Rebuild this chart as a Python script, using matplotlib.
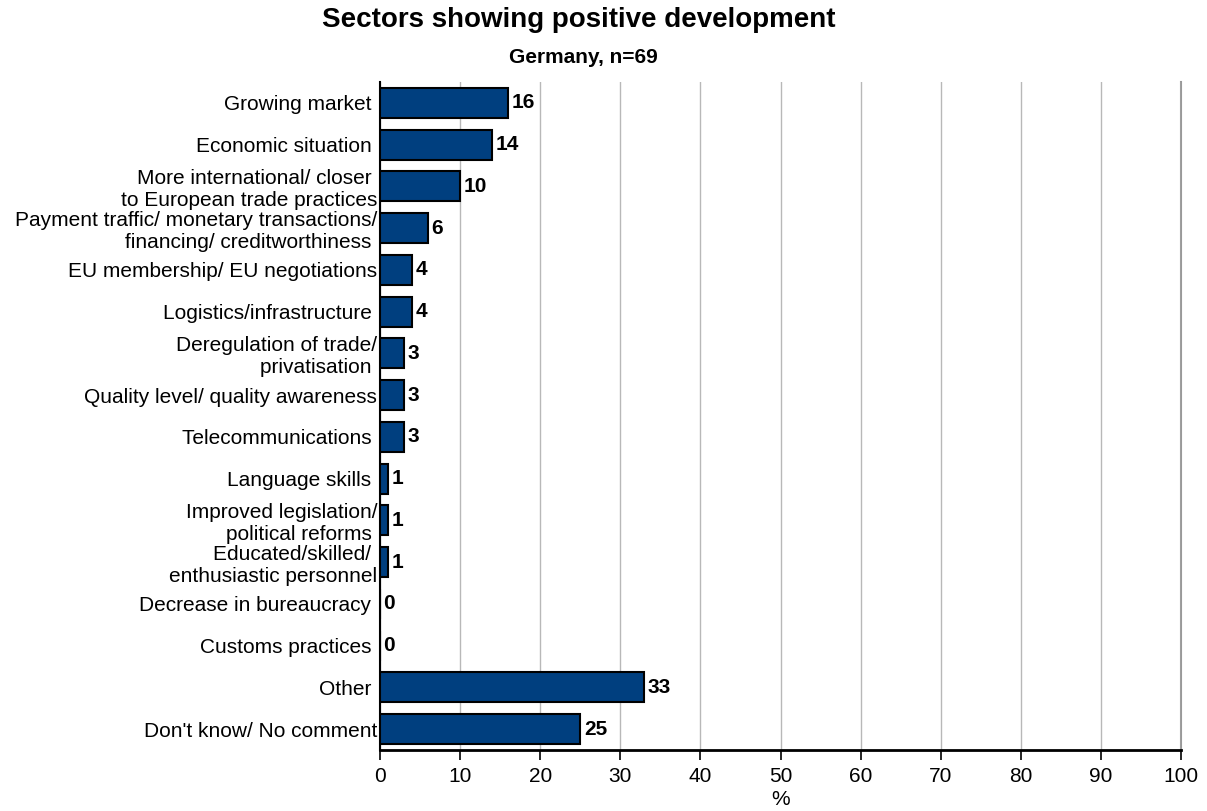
import matplotlib
matplotlib.use("Agg")
from matplotlib import pyplot as plt

plt.rcParams['font.family'] = ['Liberation Sans', 'DejaVu Sans']

categories = [
    "Growing market ",
    "Economic situation ",
    "More international/ closer \nto European trade practices",
    "Payment traffic/ monetary transactions/\nfinancing/ creditworthiness ",
    "EU membership/ EU negotiations",
    "Logistics/infrastructure ",
    "Deregulation of trade/\nprivatisation ",
    "Quality level/ quality awareness",
    "Telecommunications ",
    "Language skills ",
    "Improved legislation/\npolitical reforms ",
    "Educated/skilled/ \nenthusiastic personnel",
    "Decrease in bureaucracy ",
    "Customs practices ",
    "Other ",
    "Don't know/ No comment",
]
values = [16, 14, 10, 6, 4, 4, 3, 3, 3, 1, 1, 1, 0, 0, 33, 25]
x_ticks = list(range(0, 101, 10))

FS = 15

fig = plt.figure(figsize=(12.07, 8.11), dpi=100)
ax = fig.add_axes([0.3148, 0.0752, 0.9785 - 0.3148, 0.8989 - 0.0752])

pos = list(range(len(categories)))
ax.barh(pos, values, height=0.72, color="#003f7f", edgecolor="black",
        linewidth=1.5, zorder=3)

for y, v in zip(pos, values):
    ax.text(v + 0.45, y, str(v), va="center", ha="left",
            fontsize=FS, fontweight="bold", zorder=4)

ax.set_ylim(len(categories) - 0.5, -0.5)
ax.set_xlim(0, 100)
ax.set_yticks(pos)
ax.set_yticklabels(categories, fontsize=FS, linespacing=1.2)
ax.tick_params(axis="y", length=0, pad=2)
ax.set_xticks(x_ticks)
ax.tick_params(axis="x", length=7, width=1.2, labelsize=FS, pad=5)

ax.grid(axis="x", color="#b8b8b8", linewidth=1.0, zorder=0)
# right-most gridline sits on the axes edge, keep it from being clipped
ax.axvline(100, color="#999999", linewidth=1.5, zorder=0, clip_on=False)
for side in ("top", "right"):
    ax.spines[side].set_visible(False)
ax.spines["left"].set_linewidth(1.5)
ax.spines["bottom"].set_linewidth(2)

ax.set_xlabel("%", fontsize=FS, labelpad=3)

fig.text(579 / 1207, 0.975, "Sectors showing positive development",
         ha="center", va="center", fontsize=20, fontweight="bold")
fig.text(583 / 1207, 0.929, "Germany, n=69",
         ha="center", va="center", fontsize=15, fontweight="bold")

fig.savefig("out.png", dpi=100)
